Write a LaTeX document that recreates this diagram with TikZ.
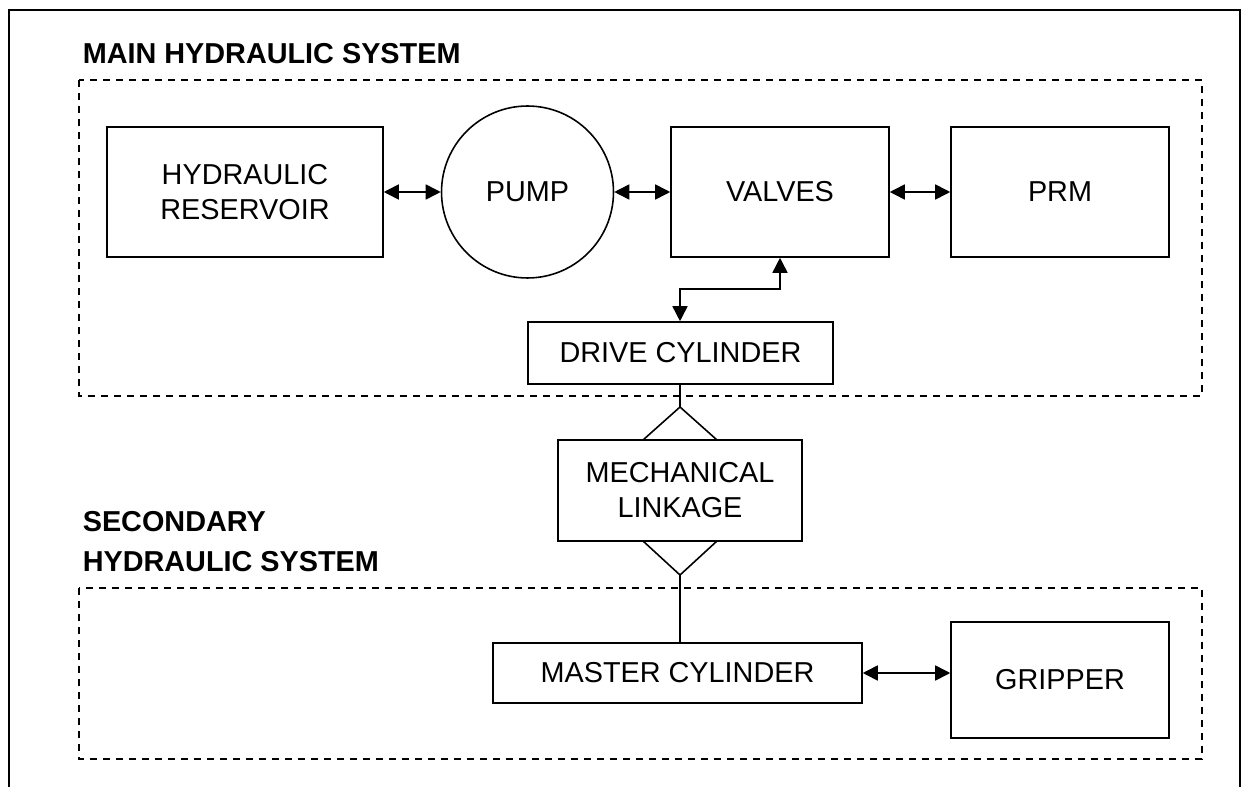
\documentclass[tikz,border=0pt]{standalone}
\usepackage{fontspec}
\setmainfont{Liberation Sans}
\usetikzlibrary{arrows.meta,calc,positioning}
\begin{document}
\begin{tikzpicture}[x=0.02cm,y=-0.02cm,>={Triangle[length=0.3cm,width=0.3cm]},
  font=\fontsize{16.4}{19.9}\selectfont,line width=0.9pt,
  blk/.style={draw,align=center,inner sep=0pt},
  grp/.style={draw,dash pattern=on 4pt off 3.4pt},
  ttl/.style={anchor=west,align=left,inner sep=0pt,font=\fontsize{16.4}{22.7}\selectfont\bfseries}]
\useasboundingbox (0,0) rectangle (1250,787);
\draw (9,787)--(9,10)--(1240,10)--(1240,787);
\draw[grp] (79,80) rectangle (1202,396);
\draw[grp] (79,588) rectangle (1202,759);
\node[ttl] (tmain) at (82,54) {MAIN HYDRAULIC SYSTEM};
\node[ttl] (tsec) at (82,542) {SECONDARY\\HYDRAULIC SYSTEM};
\node[blk,minimum width=5.52cm,minimum height=2.6cm] (res) at (245,192) {HYDRAULIC\\RESERVOIR};
\node[blk,circle,minimum size=3.44cm] (pump) at (527.5,192) {PUMP};
\node[blk,minimum width=4.36cm,minimum height=2.6cm] (valves) at (780,192) {VALVES};
\node[blk,minimum width=4.36cm,minimum height=2.6cm] (prm) at (1060,192) {PRM};
\node[blk,minimum width=6.1cm,minimum height=1.24cm] (drive) at (680.5,353) {DRIVE CYLINDER};
\node[blk,minimum width=4.88cm,minimum height=2.02cm] (link) at (680,490.5) {MECHANICAL\\LINKAGE};
\node[blk,minimum width=7.38cm,minimum height=1.2cm] (master) at (677.5,673) {MASTER CYLINDER};
\node[blk,minimum width=4.36cm,minimum height=2.32cm] (grip) at (1060,680) {GRIPPER};
\draw[<->] (res) -- (pump);
\draw[<->] (pump) -- (valves);
\draw[<->] (valves) -- (prm);
\coordinate (bend) at (680,289);
\draw[<->] (bend |- drive.north) -- (bend) -| (valves.south);
\coordinate (ltop) at (680,407);
\coordinate (lbot) at (680,575);
\draw (ltop) -- (ltop |- drive.south);
\draw (643,440) -- (ltop) -- (717,440);
\draw (643,541) -- (lbot) -- (717,541);
\draw (lbot) -- (lbot |- master.north);
\draw[<->] (master.east) -- (master.east -| grip.west);
\end{tikzpicture}
\end{document}
